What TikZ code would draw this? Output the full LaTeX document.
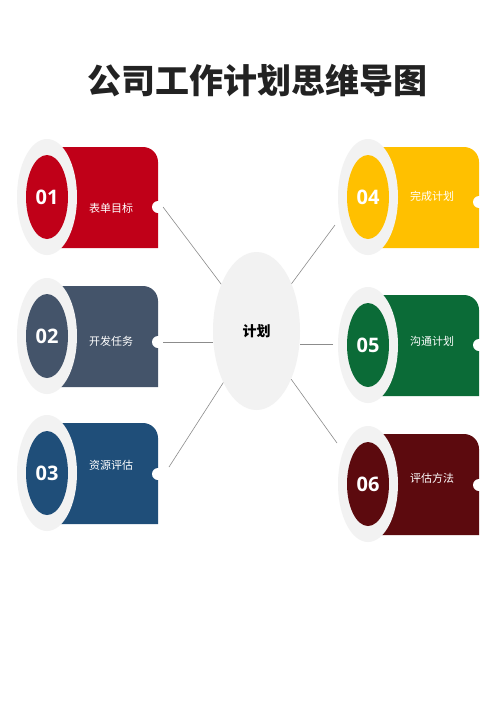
\documentclass[tikz,border=0pt]{standalone}
\usepackage{fontspec}
\setmainfont{Noto Sans CJK SC}
\newfontfamily\numfont{Open Sans}
\usetikzlibrary{shapes.geometric,calc}
\definecolor{cA}{HTML}{C00018}
\definecolor{cB}{HTML}{44546A}
\definecolor{cC}{HTML}{1F4E79}
\definecolor{cD}{HTML}{FFC000}
\definecolor{cE}{HTML}{0B6B37}
\definecolor{cF}{HTML}{5C0A0E}
\definecolor{ringgray}{HTML}{F2F2F2}
\definecolor{linkgray}{HTML}{8C8C8C}
\definecolor{titlecol}{HTML}{222222}
\tikzset{
  ring/.style={ellipse,fill=ringgray,minimum width=60pt,minimum height=116pt,inner sep=0pt},
  core/.style={ellipse,minimum width=42pt,minimum height=84pt,inner sep=0pt,text=white,font=\numfont\bfseries\fontsize{20}{22}\selectfont},
  lbl/.style={text=white,inner sep=0pt,font=\fontsize{11}{13}\selectfont},
  hub/.style={ellipse,fill=ringgray,minimum width=87pt,minimum height=158pt,inner sep=0pt,font=\bfseries\fontsize{14}{16}\selectfont,text=black},
  link/.style={draw=linkgray,line width=0.6pt},
  titlestyle/.style={inner sep=0pt,text=titlecol,font=\bfseries\fontsize{34}{37}\selectfont}
}
% #1 name, #2 cx, #3 cy, #4 notch y, #5 text y, #6 colour, #7 number, #8 label
\newcommand\planitem[8]{%
  \fill[#6] ({#2+13},{#3+51}) -- ({#2+13},{#3-50}) -- ({#2+96},{#3-50})
    arc[start angle=-90,end angle=0,radius=15] -- ({#2+111},{#3+51}) -- cycle;
  \fill[white] ({#2+111},#4) circle[radius=6];
  \node[ring] (#1r) at (#2,#3) {};
  \node[core,fill=#6] (#1) at (#2,#3) {#7};
  \node[lbl] (#1t) at ({#2+64},#5) {#8};
}
\begin{document}
\begin{tikzpicture}[x=1pt,y=-1pt]
  \fill[white] (0,0) rectangle (500,707);
  \useasboundingbox (0,0) rectangle (500,707);
  \node[titlestyle] (title) at (257,81) {公司工作计划思维导图};
  \planitem{n1}{47}{197}{207}{208}{cA}{01}{表单目标}
  \planitem{n2}{47}{336}{342}{341}{cB}{02}{开发任务}
  \planitem{n3}{47}{473}{474}{465}{cC}{03}{资源评估}
  \planitem{n4}{368}{197}{202}{196}{cD}{04}{完成计划}
  \planitem{n5}{368}{345}{345}{341}{cE}{05}{沟通计划}
  \planitem{n6}{368}{484}{485}{478}{cF}{06}{评估方法}
  \node[hub] (c) at (256.5,331) {计划};
  \coordinate (L1) at (163,207);
  \coordinate (L2) at (163,342);
  \coordinate (L3) at (169,467);
  \coordinate (R4) at (335,225);
  \coordinate (R5) at (333,344);
  \coordinate (R6) at (337,443);
  \draw[link] (L1) -- (c);
  \draw[link] (L2) -- (L2 -| c.west);
  \draw[link] (L3) -- (c);
  \draw[link] (R4) -- (c);
  \draw[link] (R5) -- (R5 -| c.east);
  \draw[link] (R6) -- (c);
\end{tikzpicture}
\end{document}
